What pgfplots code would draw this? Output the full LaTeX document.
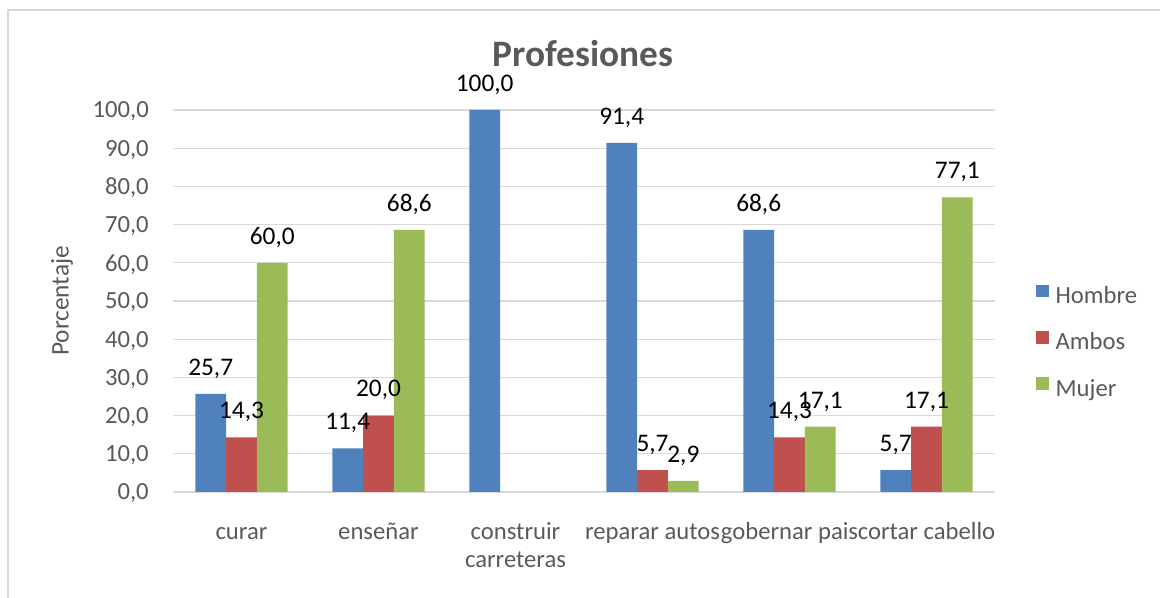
\documentclass[border=0pt]{standalone}
\usepackage{pgfplots}
\pgfplotsset{compat=1.18}
\usepackage{fontspec}
\setmainfont{Carlito}
\definecolor{hblue}{HTML}{4F81BD}
\definecolor{ared}{HTML}{C0504D}
\definecolor{mgreen}{HTML}{9BBB59}
\definecolor{txtgray}{HTML}{595959}
\definecolor{gridgray}{HTML}{D9D9D9}
\begin{document}
\begin{tikzpicture}
\useasboundingbox (-129.75pt,-79.5pt) rectangle (740.25pt,369pt);
\draw[gridgray, line width=1.5pt] (-123.75pt,-90pt) -- (-123.75pt,361.5pt) -- (760pt,361.5pt);
\begin{axis}[
  at={(0pt,0pt)}, anchor=south west,
  scale only axis,
  width=616.5pt, height=286.5pt,
  /pgf/number format/assume math mode=true,
  ybar, bar width=0.225,
  xmin=-0.5, xmax=5.5,
  ymin=0, ymax=100,
  ytick={0,10,...,100},
  xtick={0,1,2,3,4,5},
  xticklabels={curar, enseñar, {\begin{tabular}[t]{@{}c@{}}construir\\carreteras\end{tabular}}, reparar autos, gobernar pais, cortar cabello},
  axis line style={draw=none},
  major tick length=0pt,
  ymajorgrids, grid style={gridgray, line width=0.9pt},
  yticklabel style={/pgf/number format/.cd, fixed, fixed zerofill, precision=1, use comma, /tikz/.cd,
    font=\fontsize{18.5pt}{21pt}\selectfont, text=txtgray, anchor=east, inner sep=0pt, xshift=-18pt, text depth=0pt},
  xticklabel style={font=\fontsize{18.5pt}{21pt}\selectfont, text=txtgray, anchor=base, inner sep=0pt, yshift=-36pt},
  nodes near coords={\pgfmathprintnumber[fixed,fixed zerofill,precision=1,use comma]{\pgfplotspointmeta}},
  nodes near coords style={font=\fontsize{19pt}{22pt}\selectfont, text=black, anchor=base, inner sep=0pt, yshift=14pt},
  legend style={draw=none, fill=none, at={(1.0499,0.39)}, anchor=west, inner sep=0pt,
    font=\fontsize{18.5pt}{21pt}\selectfont, text=txtgray,
    nodes={inner sep=0pt, text height=13pt, text depth=4pt}, row sep=16.75pt, column sep=5pt},
  legend cell align=left,
  legend image code/.code={\fill[#1,draw=none] (0pt,0pt) rectangle (9.5pt,9.5pt);},
]
\addplot[fill=hblue, draw=none, bar shift=-0.225] coordinates {(0,25.7) (1,11.4) (2,100.0) (3,91.4) (4,68.6) (5,5.7)};
\addlegendentry{Hombre}
\addplot[fill=ared, draw=none, bar shift=0] coordinates {(0,14.3) (1,20.0) (3,5.7) (4,14.3) (5,17.1)};
\addlegendentry{Ambos}
\addplot[fill=mgreen, draw=none, bar shift=0.225] coordinates {(0,60.0) (1,68.6) (3,2.9) (4,17.1) (5,77.1)};
\addlegendentry{Mujer}
\end{axis}
\node[anchor=base, font=\bfseries\fontsize{28pt}{32pt}\selectfont, text=txtgray] at (307.5pt,318.75pt) {Profesiones};
\node[rotate=90, font=\fontsize{19pt}{22pt}\selectfont, text=txtgray] at (-83.25pt,143.25pt) {Porcentaje};
\end{tikzpicture}
\end{document}
